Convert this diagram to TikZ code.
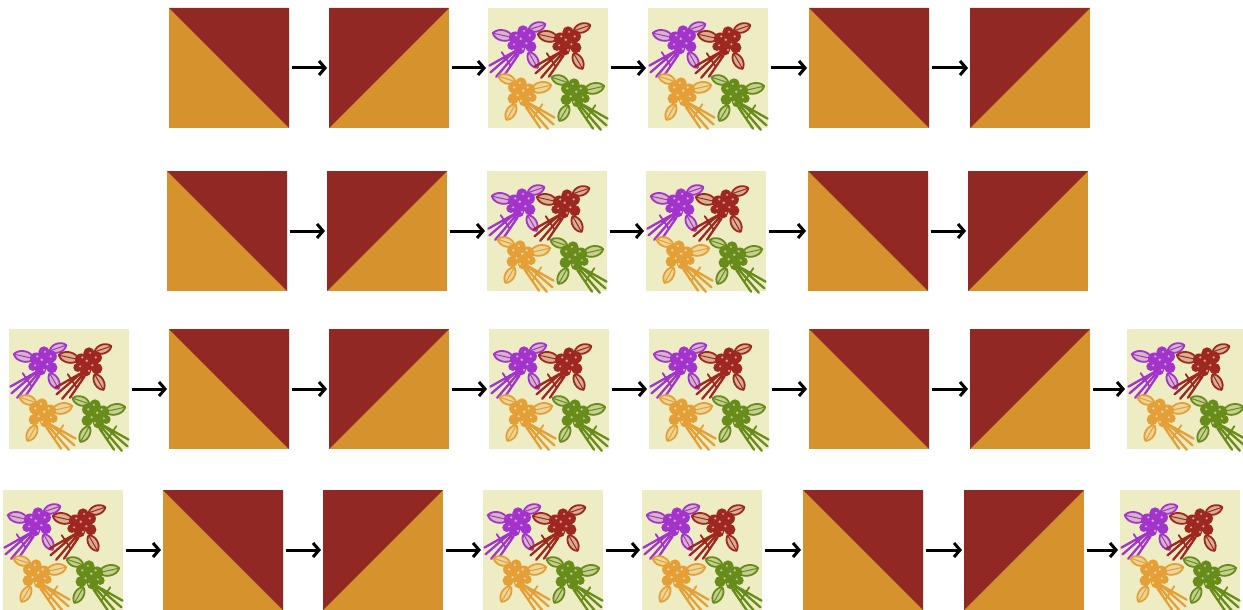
\documentclass[tikz,border=0pt]{standalone}
\usetikzlibrary{arrows.meta}
\definecolor{dred}{RGB}{146,40,36}
\definecolor{orng}{RGB}{214,146,44}
\definecolor{fbg}{RGB}{238,236,194}
\definecolor{fpur}{RGB}{162,52,204}
\definecolor{fred}{RGB}{158,40,32}
\definecolor{forg}{RGB}{228,160,54}
\definecolor{fgrn}{RGB}{104,140,26}
\begin{document}
\begin{tikzpicture}[x=1pt,y=-1pt,
  tilebase/.style={minimum size=120pt,inner sep=0pt,outer sep=0pt,draw=none},
  tileA/.style={tilebase,path picture={
     \fill[orng] (path picture bounding box.north west) rectangle (path picture bounding box.south east);
     \fill[dred] (path picture bounding box.north west) -- (path picture bounding box.north east) -- (path picture bounding box.south east) -- cycle;}},
  tileB/.style={tilebase,path picture={
     \fill[orng] (path picture bounding box.north west) rectangle (path picture bounding box.south east);
     \fill[dred] (path picture bounding box.north west) -- (path picture bounding box.north east) -- (path picture bounding box.south west) -- cycle;}},
  tileF/.style={tilebase,fill=fbg},
  arr/.style={-{Straight Barb[length=6pt,width=14pt]},line width=3pt,shorten <=2.5pt,shorten >=2pt},
  pics/bouquet/.style={code={
    \begin{scope}[line cap=round,line join=round,color=#1,scale=1.12]
      \draw[line width=2.3pt] (-7,9) -- (-30,22) (-7,9) -- (-29,28) (-6,11) -- (-24,32) (-4,12) -- (-17,31);
      \draw[line width=1.8pt] (-19,10) -- (-11,22);
      \foreach \ax/\ay/\bx/\by in {-9/-3/-27/-7, 5/-10/20/-15, 5/10/13/24}{
        \draw[line width=1.8pt,fill=#1!30!fbg] (\ax,\ay) to[bend left=60] (\bx,\by) to[bend left=60] (\ax,\ay);
        \draw[line width=1pt] (\ax,\ay) -- (\bx,\by);
      }
      \fill (0,0) circle (7pt) (-7,-3) circle (5.5pt) (6,-5) circle (5.5pt) (-3,7) circle (5pt) (7,5) circle (5pt) (0,-9) circle (5pt) (-10,4) circle (4pt);
      \fill[#1!45!white] (-2,-2) circle (1.3pt) (3,2) circle (1.1pt) (-6,-5) circle (1.1pt) (6,-5) circle (1.1pt) (0,7) circle (1.1pt) (-8,3) circle (1pt) (1,-9) circle (1pt);
    \end{scope}
  }},
  pics/flowerset/.style={code={
    \pic at (35,33) {bouquet=fpur};
    \pic at (80,34) {bouquet=fred};
    \pic[xscale=-1] at (33,85) {bouquet=forg};
    \pic[xscale=-1] at (86,86) {bouquet=fgrn};
  }}
]
\useasboundingbox (0,0) rectangle (1243,610);
% row 1
\foreach \n/\l/\t in {a/169/A,b/329/B,c/488/F,d/648/F,e/809/A,f/970/B}
  \node[tile\t] (r1\n) at (\l+60,68) {};
% row 2
\foreach \n/\l/\t in {a/167/A,b/327/B,c/487/F,d/646/F,e/808/A,f/968/B}
  \node[tile\t] (r2\n) at (\l+60,231) {};
% row 3
\foreach \n/\l/\t in {a/9/F,b/169/A,c/329/B,d/489/F,e/649/F,f/809/A,g/970/B,h/1127/F}
  \node[tile\t] (r3\n) at (\l+60,389) {};
% row 4
\foreach \n/\l/\t in {a/3/F,b/163/A,c/323/B,d/483/F,e/642/F,f/803/A,g/964/B,h/1120/F}
  \node[tile\t] (r4\n) at (\l+60,550) {};
% flowers
\foreach \m in {r1c,r1d,r2c,r2d,r3a,r3d,r3e,r3h,r4a,r4d,r4e,r4h}
  \pic at (\m.north west) {flowerset};
% arrows
\foreach \p/\q in {a/b,b/c,c/d,d/e,e/f}{
  \draw[arr] (r1\p) -- (r1\q);
  \draw[arr] (r2\p) -- (r2\q);
}
\foreach \p/\q in {a/b,b/c,c/d,d/e,e/f,f/g,g/h}{
  \draw[arr] (r3\p) -- (r3\q);
  \draw[arr] (r4\p) -- (r4\q);
}
\end{tikzpicture}
\end{document}
